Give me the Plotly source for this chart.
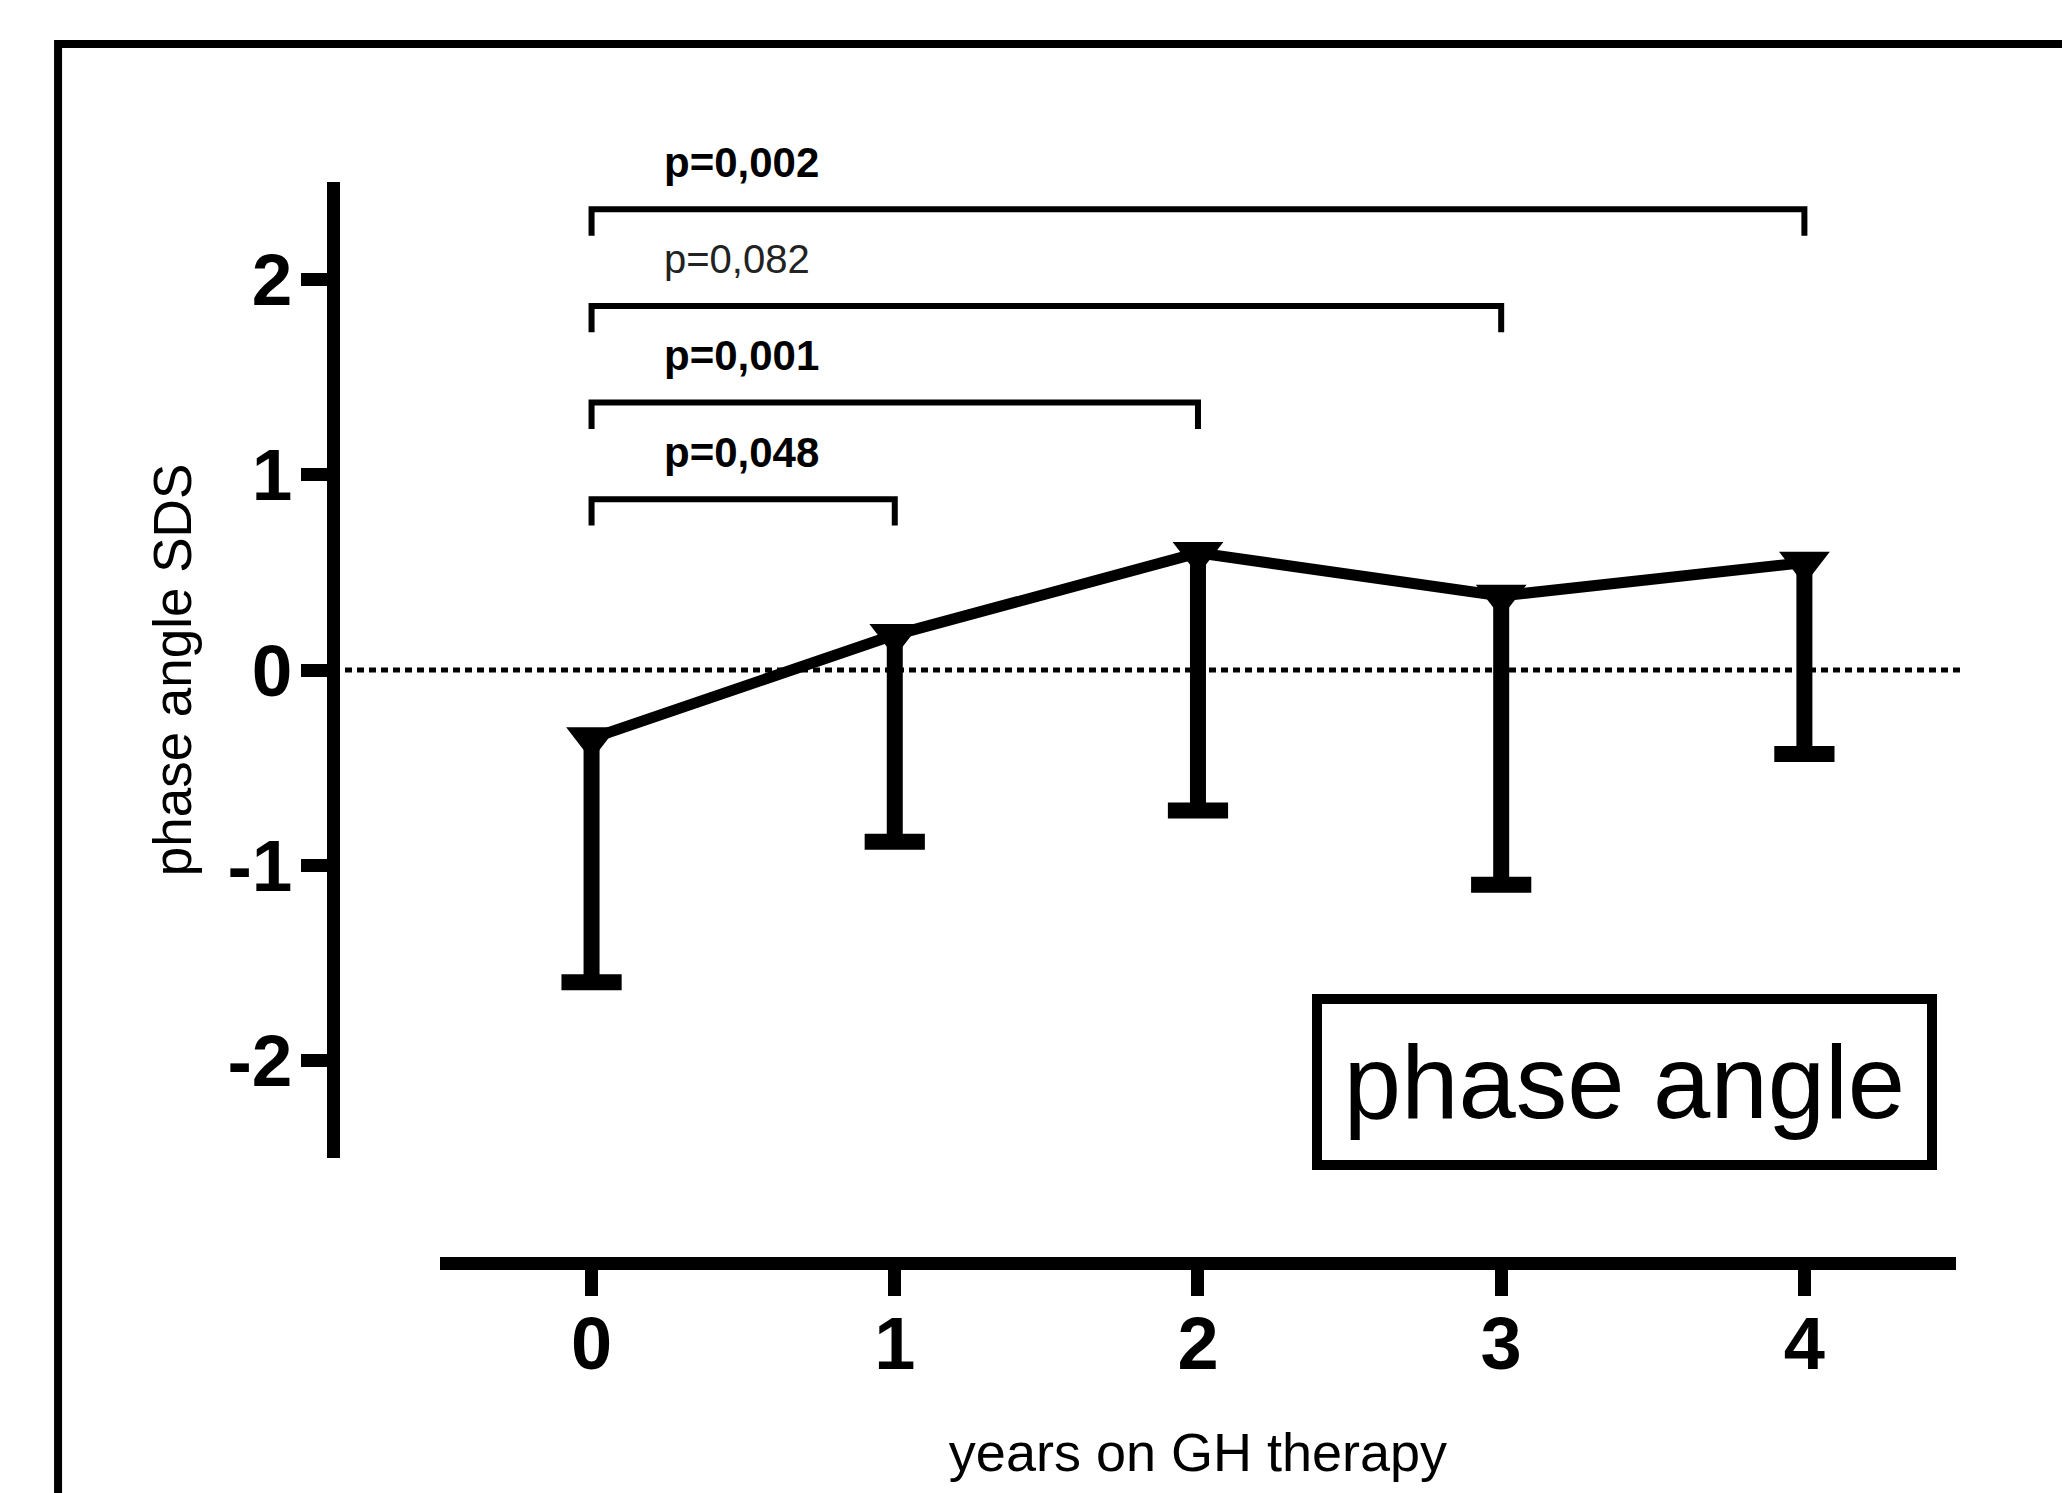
import numpy as np
import plotly.graph_objects as go

# ---------------- data ----------------
years = [0, 1, 2, 3, 4]
mean_sds = [-0.35, 0.18, 0.60, 0.38, 0.55]
sd_below = [1.25, 1.06, 1.32, 1.48, 0.98]

y_tick_vals = [-2, -1, 0, 1, 2]
y_tick_text = ["-2", "-1", "0", "1", "2"]
x_tick_vals = [0, 1, 2, 3, 4]
x_tick_text = ["0", "1", "2", "3", "4"]

cmp_from = [0, 0, 0, 0]
cmp_to = [4, 3, 2, 1]
cmp_p = ["p=0,002", "p=0,082", "p=0,001", "p=0,048"]
cmp_bold = [True, False, True, True]

legend_label = "phase angle"
x_title = "years on GH therapy"
y_title = "phase angle SDS"

# ---------------- layout constants ----------------
# page body has an 8px margin, so the figure is 8px smaller and margins shifted
W, H = 2062, 1485
ML, MR, MT, MB = 325, 114, 174, 230
FONT = "Arial, 'Liberation Sans', sans-serif"
Y_RANGE = [-2.5, 2.5]
X_RANGE = [-0.5, 4.5]


def ydom(v):
    return (v - Y_RANGE[0]) / (Y_RANGE[1] - Y_RANGE[0])


mean_arr = np.array(mean_sds)
low_arr = mean_arr - np.array(sd_below)

fig = go.Figure()

# main line + markers + downward error stems
fig.add_trace(go.Scatter(
    x=years, y=mean_sds, mode="lines+markers",
    line=dict(color="black", width=11),
    marker=dict(symbol="triangle-down", size=44, color="black"),
    error_y=dict(type="data", symmetric=False, array=[0] * len(years),
                 arrayminus=sd_below, width=0, thickness=16, color="black"),
    showlegend=False, cliponaxis=False,
))
# error caps (lower only)
fig.add_trace(go.Scatter(
    x=years, y=low_arr, mode="markers",
    marker=dict(symbol="line-ew", size=43, color="black",
                line=dict(color="black", width=16)),
    showlegend=False, cliponaxis=False,
))

shapes = []
# outer frame
shapes.append(dict(type="rect", xref="paper", yref="paper",
                   x0=-0.1694, x1=1.0678, y0=-0.2285, y1=1.1277,
                   line=dict(color="black", width=8), fillcolor="rgba(0,0,0,0)"))
# dotted zero line
shapes.append(dict(type="line", xref="paper", yref="y", x0=0, x1=1.0025, y0=0, y1=0,
                   line=dict(color="black", width=5, dash="7px,5px"), layer="below"))

annotations = []
top_level, step, drop, text_off = 2.36, 0.495, 0.135, 0.24
for i, (a, b, p, bold) in enumerate(zip(cmp_from, cmp_to, cmp_p, cmp_bold)):
    lvl = top_level - i * step
    shapes.append(dict(type="path", xref="x", yref="y",
                       path=f"M{a},{lvl - drop} L{a},{lvl} L{b},{lvl} L{b},{lvl - drop}",
                       line=dict(color="black", width=6)))
    annotations.append(dict(
        x=0.232, y=ydom(lvl + text_off), xref="x", yref="y domain",
        xanchor="left", yanchor="middle",
        text=f"<b>{p}</b>" if bold else p, showarrow=False,
        font=dict(family=FONT, size=42 if bold else 40, color="black" if bold else "#222222"),
    ))

# legend box
annotations.append(dict(
    x=3.408, y=-2.112, xref="x", yref="y", xanchor="center", yanchor="middle",
    text=legend_label, showarrow=False, width=605, height=156,
    borderwidth=10, borderpad=0, bordercolor="black", bgcolor="white",
    font=dict(family=FONT, size=103, color="black"),
))

fig.update_layout(
    width=W, height=H,
    margin=dict(l=ML, r=MR, t=MT, b=MB, autoexpand=False),
    paper_bgcolor="white", plot_bgcolor="white",
    font=dict(family=FONT, color="black"),
    shapes=shapes, annotations=annotations,
    xaxis=dict(
        domain=[0.0659, 1], range=X_RANGE, anchor="free", position=0,
        showline=True, linecolor="black", linewidth=13,
        ticks="outside", ticklen=26, tickwidth=13, tickcolor="black",
        tickmode="array", tickvals=x_tick_vals, ticktext=x_tick_text,
        tickfont=dict(family=FONT, size=74, color="black", weight="bold"),
        ticklabelstandoff=-16,
        showgrid=False, zeroline=False, automargin=False,
        title=dict(text=x_title, font=dict(family=FONT, size=54, color="black"), standoff=49),
    ),
    yaxis=dict(
        domain=[0.0971, 1], range=Y_RANGE, anchor="free", position=0,
        showline=True, linecolor="black", linewidth=13,
        ticks="outside", ticklen=26, tickwidth=13, tickcolor="black",
        tickmode="array", tickvals=y_tick_vals, ticktext=y_tick_text,
        tickfont=dict(family=FONT, size=73, color="black", weight="bold"),
        ticklabelstandoff=-6,
        showgrid=False, zeroline=False, automargin=False,
        title=dict(text=y_title, font=dict(family=FONT, size=53, color="black"), standoff=17),
    ),
)

fig.write_html("out.html")
